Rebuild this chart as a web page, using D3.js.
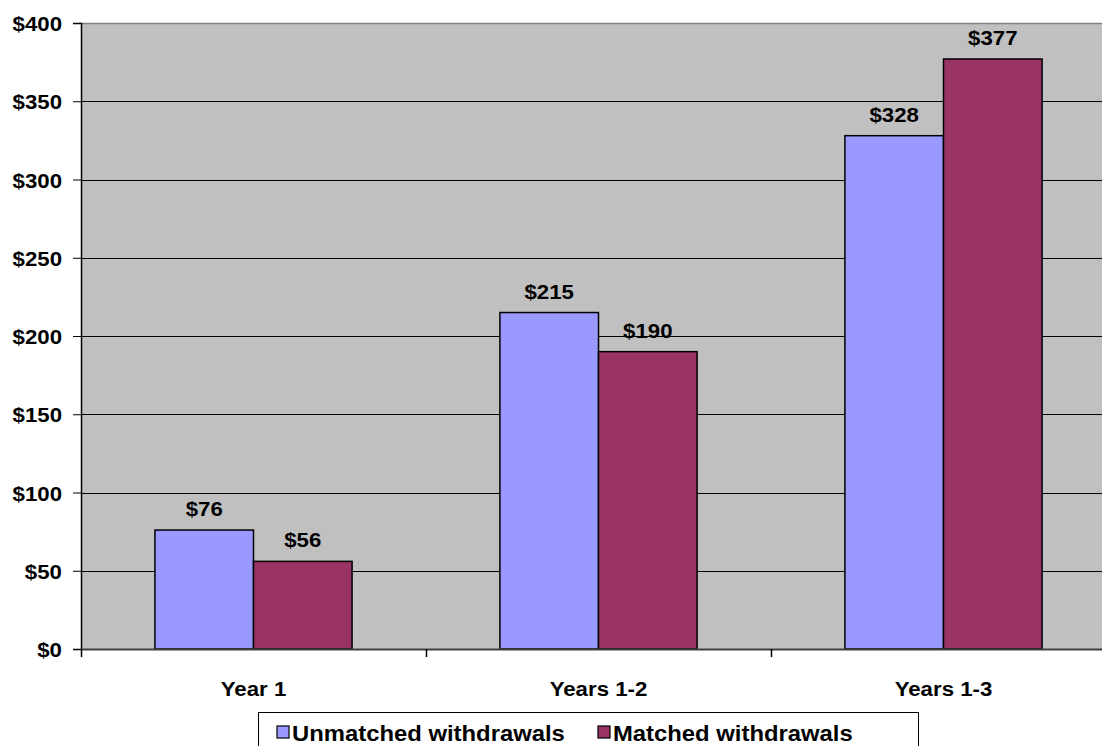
<!DOCTYPE html>
<html>
<head>
<meta charset="utf-8">
<script src="https://cdn.jsdelivr.net/npm/d3@7"></script>
<style>
  html, body { margin: 0; padding: 0; background: #ffffff; }
  svg { display: block; }
  text { font-family: "Liberation Sans", Arial, sans-serif; font-weight: bold; fill: #000; }
</style>
</head>
<body>
<svg id="chart" width="1102" height="746"></svg>
<script>
const categories = ["Year 1", "Years 1-2", "Years 1-3"];
const seriesNames = ["Unmatched withdrawals", "Matched withdrawals"];
const unmatched = [76, 215, 328];
const matched = [56, 190, 377];
const yTicks = [0, 50, 100, 150, 200, 250, 300, 350, 400];
const colors = ["#9999FF", "#993366"];

const svg = d3.select("#chart");
const plot = { left: 81, right: 1116, top: 23, bottom: 649 };
const SX = 1.06; // slight horizontal text stretch seen in the reference

const x = d3.scaleBand().domain(categories).range([plot.left, plot.right]).paddingInner(0).paddingOuter(0);
const y = d3.scaleLinear().domain([0, 400]).range([plot.bottom, plot.top]);
const bw = x.bandwidth() / 3.5;

// plot background
svg.append("rect")
  .attr("x", plot.left).attr("y", plot.top)
  .attr("width", plot.right - plot.left).attr("height", plot.bottom - plot.top)
  .attr("fill", "#C0C0C0");

// top border
svg.append("line")
  .attr("x1", plot.left).attr("x2", plot.right)
  .attr("y1", plot.top + 0.5).attr("y2", plot.top + 0.5)
  .attr("stroke", "#808080").attr("stroke-width", 1.5);

// gridlines
svg.append("g").selectAll("line")
  .data(yTicks.filter(d => d > 0 && d < 400))
  .join("line")
  .attr("x1", plot.left).attr("x2", plot.right)
  .attr("y1", d => Math.round(y(d)) + 0.5).attr("y2", d => Math.round(y(d)) + 0.5)
  .attr("stroke", "#000").attr("stroke-width", 1);

// y axis
const yAxis = d3.axisLeft(y).tickValues(yTicks).tickSize(8).tickFormat(d => "$" + d);
const gy = svg.append("g").attr("transform", `translate(${plot.left},0)`).call(yAxis);
gy.select(".domain").attr("stroke", "#000").attr("stroke-width", 1.5);
gy.selectAll(".tick line").attr("stroke", "#000");
gy.selectAll(".tick text").remove();
gy.selectAll(".tick").append("text")
  .attr("transform", `translate(-19,0) scale(${SX},1)`)
  .attr("text-anchor", "end")
  .attr("dy", "0.36em")
  .style("font-size", "21px")
  .text(d => "$" + d);

// bars
const series = [unmatched, matched];
series.forEach((vals, si) => {
  const g = svg.append("g");
  g.selectAll("rect")
    .data(vals)
    .join("rect")
    .attr("x", (d, i) => x(categories[i]) + x.bandwidth() / 2 + (si - 1) * bw)
    .attr("y", d => y(d))
    .attr("width", bw)
    .attr("height", d => y(0) - y(d))
    .attr("fill", colors[si])
    .attr("stroke", "#000")
    .attr("stroke-width", 1.5);
  g.selectAll("text")
    .data(vals)
    .join("text")
    .attr("transform", (d, i) => `translate(${x(categories[i]) + x.bandwidth() / 2 + (si - 0.5) * bw},${y(d) - 14}) scale(${SX},1)`)
    .attr("text-anchor", "middle")
    .style("font-size", "21px")
    .text(d => "$" + d);
});

// x axis
const xAxis = d3.axisBottom(x).tickSize(0).tickFormat("");
const gx = svg.append("g").attr("transform", `translate(0,${plot.bottom})`).call(xAxis);
gx.select(".domain").attr("stroke", "#404040").attr("stroke-width", 2);
gx.selectAll(".tick").remove();
// category boundary ticks
const bounds = categories.map(c => x(c));
svg.append("g").selectAll("line")
  .data(bounds)
  .join("line")
  .attr("x1", d => Math.round(d) + 0.5).attr("x2", d => Math.round(d) + 0.5)
  .attr("y1", plot.bottom).attr("y2", plot.bottom + 8)
  .attr("stroke", "#000").attr("stroke-width", 1.5);
svg.append("g").selectAll("text")
  .data(categories)
  .join("text")
  .attr("transform", d => `translate(${x(d) + x.bandwidth() / 2},${plot.bottom + 47}) scale(${SX},1)`)
  .attr("text-anchor", "middle")
  .style("font-size", "21px")
  .text(d => d);

// legend
const lg = svg.append("g");
lg.append("rect")
  .attr("x", 258.5).attr("y", 712.5).attr("width", 660).attr("height", 50)
  .attr("fill", "#fff").attr("stroke", "#000").attr("stroke-width", 1);
const legendX = [277, 598];
seriesNames.forEach((name, i) => {
  lg.append("rect")
    .attr("x", legendX[i]).attr("y", 726).attr("width", 12).attr("height", 12)
    .attr("fill", colors[i]).attr("stroke", "#000").attr("stroke-width", 1.2);
  lg.append("text")
    .attr("transform", `translate(${legendX[i] + 15},${740.5}) scale(${SX},1)`)
    .style("font-size", "22.5px")
    .text(name);
});
</script>
</body>
</html>
